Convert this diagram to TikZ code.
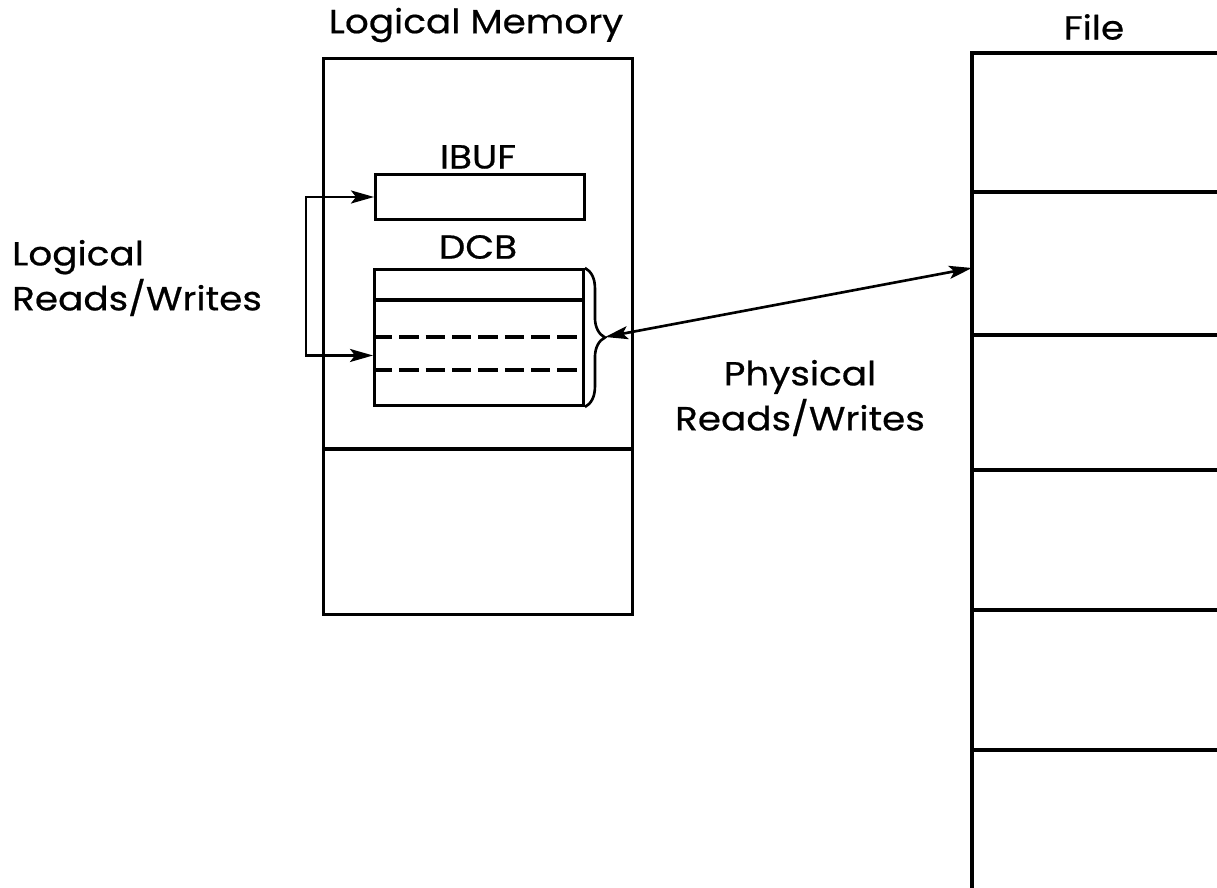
\documentclass[tikz,border=0pt]{standalone}
\usepackage{fontspec}
\setmainfont{Poppins}[FakeStretch=1.12, FakeBold=0.6]
\usetikzlibrary{arrows.meta,positioning,decorations.pathreplacing}

\begin{document}
\begin{tikzpicture}[
  x=0.02cm, y=-0.02cm,
  >={Stealth[length=4.6mm,width=2.6mm,inset=1mm]},
  every node/.style={font=\fontsize{19}{25.6}\selectfont},
  box/.style={draw, line width=1.7pt, inner sep=0pt, anchor=north west},
  rw/.style={line width=1.5pt},
  sep/.style={line width=1.8pt},
  dsep/.style={line width=1.8pt, dash pattern=on 11pt off 4pt},
]
\useasboundingbox (0,0) rectangle (1217,888);

% logical memory
\node[box, minimum width=6.18cm, minimum height=11.12cm] (mem) at (322,57) {};
\draw[sep] (mem.west |- 0,449) -- (mem.east |- 0,449);
\node (memlab) at (476,25) {Logical Memory};

\node[box, minimum width=4.18cm, minimum height=0.9cm] (ibuf) at (374,173) {};
\node (ibuflab) at (478,157) {IBUF};

\node[box, minimum width=4.18cm, minimum height=2.72cm] (dcb) at (373,268) {};
\node (dcblab) at (478,247) {DCB};
\draw[sep] (dcb.west |- 0,300) -- (dcb.east |- 0,300);
\draw[dsep] (dcb.west |- 0,337) -- (dcb.east |- 0,337);
\draw[dsep] (dcb.west |- 0,370) -- (dcb.east |- 0,370);

\draw[rw, decorate, decoration={brace, amplitude=0.4cm}]
  (dcb.north east) -- (dcb.south east);
\coordinate (tip) at (605,337);

% file
\node (filelab) at (1094,27) {File};
\draw[sep] (972,888) |- (1217,53);
\foreach \y in {192,335,470,610,750}
  \draw[sep] (972,\y) -- (1217,\y);
\coordinate (filept) at (972,268);

% reads / writes
\draw[rw, <->] (ibuf.west) -- ++(-68,0) |- ([yshift=-0.36cm]dcb.west);
\node[align=left, anchor=west] (logrw) at (6,278) {Logical\\Reads/Writes};

\draw[rw, <->] (tip) -- (filept);
\node[align=center] (phyrw) at (800,398) {Physical\\Reads/Writes};
\end{tikzpicture}
\end{document}
